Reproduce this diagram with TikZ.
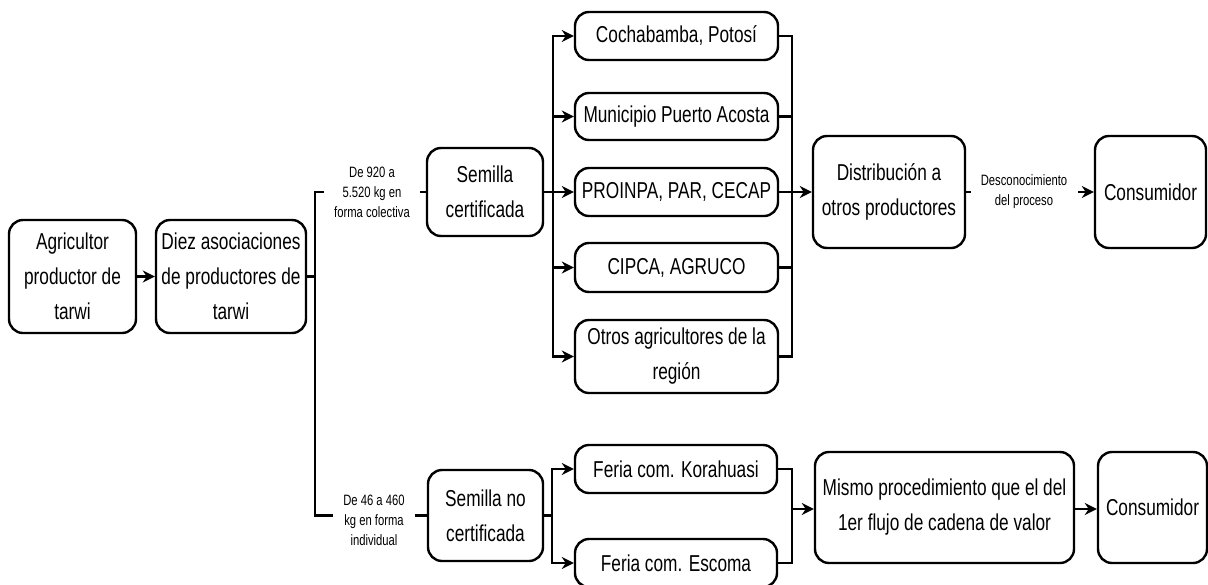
\documentclass[tikz,border=0pt]{standalone}
\usepackage{fontspec}
\setmainfont{Liberation Sans}[FakeStretch=0.75]
\usetikzlibrary{arrows.meta}

\begin{document}
\begin{tikzpicture}[x=0.5pt,y=-0.5pt,
    caja/.style 2 args={draw,rounded corners=7pt,line width=1.2pt,align=center,inner sep=0pt,
      minimum width=#1*0.5pt,minimum height=#2*0.5pt,font=\fontsize{11.5}{17.5}\selectfont},
    etiq/.style={align=center,inner sep=0pt,font=\fontsize{7.5}{10}\selectfont},
    linea/.style={line width=1.2pt,line cap=rect},
    flecha/.style={line width=1.2pt,-{Stealth[length=6pt,width=6pt]}}]
          \useasboundingbox (0,0) rectangle (1208,584);
          % primer flujo
          \node[caja={127}{113}] (agri) at (72.5,276.5) {Agricultor\\productor de\\tarwi};
          \node[caja={150}{113}] (diez) at (231,276.5) {Diez asociaciones\\de productores de\\tarwi};
          \node[etiq,minimum width=49pt] (lab1) at (372,192) {De 920 a\\5.520 kg en\\forma colectiva};
          \node[caja={116}{88}] (semc) at (485,192) {Semilla\\certificada};
          \node[caja={203}{48}] (cocha) at (676.5,36) {Cochabamba, Potosí};
          \node[caja={203}{47}] (muni) at (676.5,116.5) {Municipio Puerto Acosta};
          \node[caja={203}{48}] (proin) at (676.5,192) {PROINPA, PAR, CECAP};
          \node[caja={203}{49}] (cipca) at (676.5,267.5) {CIPCA, AGRUCO};
          \node[caja={203}{73}] (otros) at (676.5,356.5) {Otros agricultores de la\\región};
          \node[caja={152}{112}] (dist) at (889,192) {Distribución a\\otros productores};
          \node[etiq,minimum width=54pt] (lab3) at (1024,192) {Desconocimiento\\del proceso};
          \node[caja={111}{112}] (cons1) at (1150.5,192) {Consumidor};
          % segundo flujo
          \node[etiq,minimum width=42pt] (lab2) at (374,520) {De 46 a 460\\kg en forma\\individual};
          \node[caja={115}{91}] (semnc) at (485.5,515.5) {Semilla no\\certificada};
          \node[caja={202}{48}] (kora) at (676,469) {Feria com. Korahuasi};
          \node[caja={202}{48}] (esco) at (676,563) {Feria com. Escoma};
          \node[caja={259}{111}] (mismo) at (944.5,507.5) {Mismo procedimiento que el del\\1er flujo de cadena de valor};
          \node[caja={109}{111}] (cons2) at (1152.5,507.5) {Consumidor};
          \coordinate (b1) at (315,276.5);
          \coordinate (b2) at (553,192);
          \coordinate (b3) at (792,192);
          \coordinate (b4) at (552,515.5);
          \coordinate (b5) at (792,509);
          \draw[flecha] (agri) -- (diez);
          \draw[linea] (diez.east) -- (b1);
          \draw[linea] (lab1.west) -| (b1) |- (lab2.west |- semnc);
          \draw[linea] (lab1.east) -- (semc.west);
          \draw[linea] (lab2.east |- semnc) -- (semnc.west);
          \draw[linea] (semc.east) -- (b2);
          \draw[linea] (b2 |- cocha) -- (b2 |- otros);
          \draw[linea] (b3 |- cocha) -- (b3 |- otros);
          \foreach \n in {cocha,muni,proin,cipca,otros} {
            \draw[flecha] (b2 |- \n) -- (\n.west);
            \draw[linea] (\n.east) -- (b3 |- \n);
          }
          \draw[flecha] (b3) -- (dist.west);
          \draw[linea] (dist.east) -- (lab3.west);
          \draw[flecha] (lab3.east) -- (cons1.west);
          \draw[linea] (semnc.east) -- (b4);
          \draw[linea] (b4 |- kora) -- (b4 |- esco);
          \draw[linea] (b5 |- kora) -- (b5 |- esco);
          \foreach \n in {kora,esco} {
            \draw[flecha] (b4 |- \n) -- (\n.west);
            \draw[linea] (\n.east) -- (b5 |- \n);
          }
          \draw[flecha] (b5) -- (mismo.west |- b5);
          \draw[flecha] (mismo.east |- b5) -- (cons2.west |- b5);
        \end{tikzpicture}
\end{document}
